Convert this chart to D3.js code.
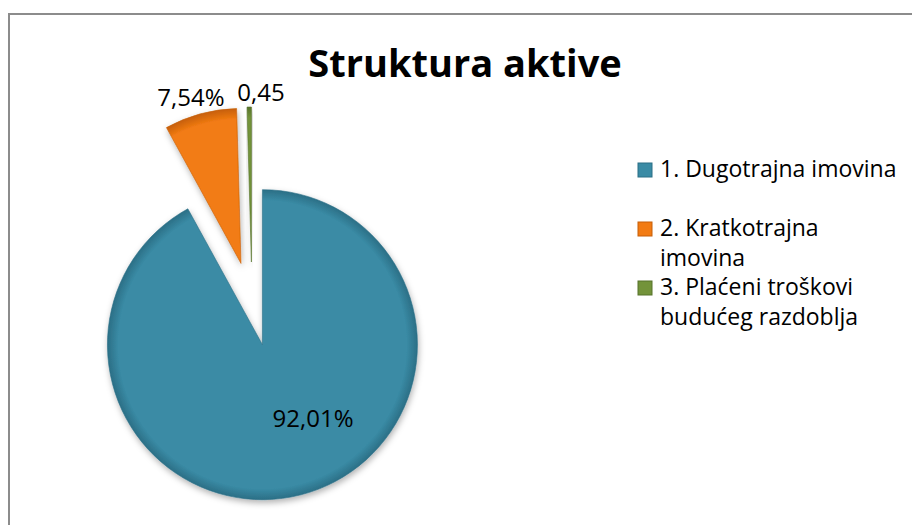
<!DOCTYPE html>
<html>
<head>
<meta charset="utf-8">
<script src="https://cdn.jsdelivr.net/npm/d3@7"></script>
<style>
  body { margin: 0; background: #fff; }
  svg { display: block; font-family: "Open Sans", Lato, sans-serif; }
</style>
</head>
<body>
<svg id="canvas"></svg>
<script>
const categories = ["1. Dugotrajna imovina", "2. Kratkotrajna imovina", "3. Plaćeni troškovi budućeg razdoblja"];
const values = [92.01, 7.54, 0.45];
const labels = ["92,01%", "7,54%", "0,45"];
const colors = ["#3a8ba5", "#f27b13", "#73933a"];
const edgeColors = ["#2b6f86", "#c65f08", "#56722a"];
const legendLines = [["1. Dugotrajna imovina"], ["2. Kratkotrajna", "imovina"], ["3. Plaćeni troškovi", "budućeg razdoblja"]];
const title = "Struktura aktive";

const width = 912;
const height = 525;
const radius = 155;
const explode = 42;
const center = {x: 252, y: 304};

const svg = d3.select("#canvas").attr("width", width).attr("height", height);

// chart frame (runs off the right and bottom)
svg.append("rect")
    .attr("x", 9).attr("y", 14)
    .attr("width", width + 20).attr("height", height + 20)
    .attr("fill", "#fff")
    .attr("stroke", "#8c8c8c")
    .attr("stroke-width", 2);

const defs = svg.append("defs");
colors.forEach((c, i) => {
    const g = defs.append("radialGradient").attr("id", "grad" + i)
        .attr("gradientUnits", "userSpaceOnUse")
        .attr("cx", 0).attr("cy", 0).attr("r", radius);
    g.append("stop").attr("offset", "0%").attr("stop-color", c);
    g.append("stop").attr("offset", "93%").attr("stop-color", c);
    g.append("stop").attr("offset", "100%").attr("stop-color", edgeColors[i]);
});
const shadow = defs.append("filter").attr("id", "shadow")
    .attr("x", "-20%").attr("y", "-20%").attr("width", "140%").attr("height", "140%");
shadow.append("feDropShadow")
    .attr("dx", 1).attr("dy", 3).attr("stdDeviation", 3)
    .attr("flood-color", "#000").attr("flood-opacity", 0.3);

const pie = d3.pie().sort(null).value(d => d)(values);
const arc = d3.arc().innerRadius(0).outerRadius(radius);

const pieGroup = svg.append("g").attr("transform", `translate(${center.x}, ${center.y})`);

function offset(d, r) {
    const a = (d.startAngle + d.endAngle) / 2;
    return [r * Math.sin(a), -r * Math.cos(a)];
}

const slices = pieGroup.selectAll("g.slice")
    .data(pie)
    .join("g")
    .classed("slice", true)
    .attr("transform", d => `translate(${offset(d, explode)})`);

slices.append("path")
    .attr("d", arc)
    .attr("fill", (d, i) => `url(#grad${i})`)
    .attr("stroke", (d, i) => edgeColors[i])
    .attr("stroke-width", 0.6)
    .attr("filter", "url(#shadow)");

// data labels: inside for the big slice, outside for the small ones
const labelPos = [
    d => { const a = d.startAngle + (d.endAngle - d.startAngle) * 0.44; return [90 * Math.sin(a), -90 * Math.cos(a)]; },
    d => { const p = offset(d, 172); return [p[0] - 5, p[1]]; },
    d => { const p = offset(d, 169); return [p[0] + 12, p[1]]; }
];
slices.append("text")
    .attr("transform", (d, i) => `translate(${labelPos[i](d)})`)
    .attr("text-anchor", "middle")
    .attr("dy", "0.35em")
    .attr("font-size", 24)
    .attr("fill", "#000")
    .text((d, i) => labels[i]);

svg.append("text")
    .attr("x", 465).attr("y", 77)
    .attr("text-anchor", "middle")
    .attr("font-size", 38)
    .attr("font-weight", "bold")
    .attr("fill", "#000")
    .text(title);

// legend
const legendY = [177, 236, 295];
const legend = svg.append("g").attr("transform", "translate(638, 0)");
const items = legend.selectAll("g.item")
    .data(categories)
    .join("g")
    .classed("item", true)
    .attr("transform", (d, i) => `translate(0, ${legendY[i]})`);

items.append("rect")
    .attr("x", 0).attr("y", -14)
    .attr("width", 14).attr("height", 14)
    .attr("fill", (d, i) => colors[i])
    .attr("stroke", (d, i) => edgeColors[i])
    .attr("stroke-width", 1);

items.append("text")
    .attr("x", 22)
    .attr("font-size", 23)
    .attr("fill", "#000")
    .selectAll("tspan")
    .data((d, i) => legendLines[i])
    .join("tspan")
    .attr("x", 22)
    .attr("dy", (d, j) => j === 0 ? 0 : 30)
    .text(d => d);
</script>
</body>
</html>
